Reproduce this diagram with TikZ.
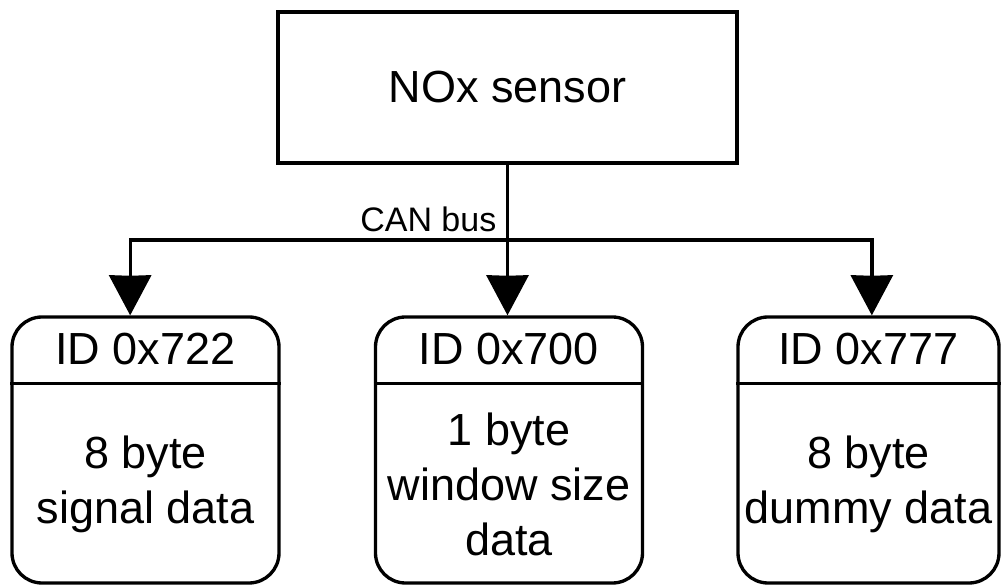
\documentclass[tikz,border=0pt]{standalone}
\usepackage{fontspec}
\setmainfont{Liberation Sans}
\usetikzlibrary{positioning,arrows.meta}

\begin{document}
\begin{tikzpicture}[
  x=0.75pt, y=0.75pt,
  line width=2.5pt,
  big/.style={font=\fontsize{33.75pt}{41.25pt}\selectfont},
  sensor/.style={draw, big, minimum width=344.25pt, minimum height=113.25pt, inner sep=0pt},
  frame/.style={draw, rounded corners=22.5pt, minimum width=200.25pt, minimum height=199.5pt, inner sep=0pt},
  txt/.style={big, align=center, inner sep=0pt},
  conn/.style={-{Stealth[length=30pt, width=31.5pt, inset'=0.35]}}
]
\useasboundingbox (0,0) rectangle (1001,585);

\node[sensor] (nox) at (507.5,497.5) {NOx sensor};
\coordinate (bus) at (507.5,345);
\node[anchor=base east, inner sep=0pt, font=\fontsize{25.5pt}{30pt}\selectfont] (canlbl) at (498,353) {CAN bus};

\node[frame] (f722) at (145.5,135) {};
\node[frame] (f700) at (509,135) {};
\node[frame, minimum width=195.75pt] (f777) at (868.5,135) {};

% headers
\node[txt] (h722) at ([yshift=-25.5pt]f722.north) {ID 0x722};
\node[txt] (h700) at ([yshift=-25.5pt]f700.north) {ID 0x700};
\node[txt] (h777) at ([yshift=-25.5pt]f777.north) {ID 0x777};
\draw ([yshift=-51pt]f722.north west) -- ([yshift=-51pt]f722.north east);
\draw ([yshift=-51pt]f700.north west) -- ([yshift=-51pt]f700.north east);
\draw ([yshift=-51pt]f777.north west) -- ([yshift=-51pt]f777.north east);

% bodies
\node[txt] (b722) at ([yshift=-25.5pt]f722.center) {8 byte\\signal data};
\node[txt] (b700) at ([yshift=-25.5pt]f700.center) {1 byte\\window size\\data};
\node[txt] (b777) at ([yshift=-25.5pt]f777.center) {8 byte\\dummy data};

\draw (nox.south) -- (bus);
\draw[conn] (bus) -| ([xshift=-11.5pt]f722.north);
\draw[conn] (bus) -- (bus |- f700.north);
\draw[conn] (bus) -| ([xshift=2.5pt]f777.north);
\end{tikzpicture}
\end{document}
